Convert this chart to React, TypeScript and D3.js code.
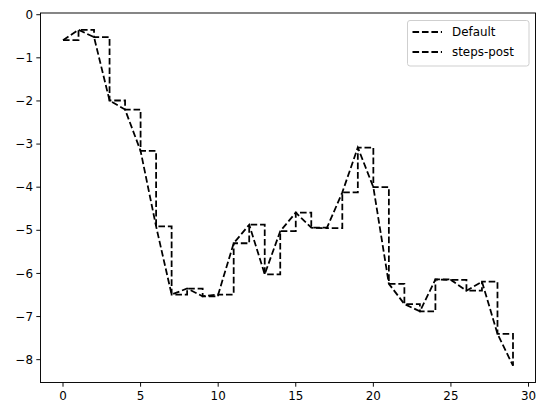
import React from "react";
import * as d3 from "d3";

const xValues: number[] = Array.from({ length: 30 }, (_, i) => i);
const yValues: number[] = [
  -0.59, -0.35, -0.52, -1.99, -2.2, -3.16, -4.91, -6.49, -6.35, -6.53,
  -6.49, -5.3, -4.87, -6.02, -5.02, -4.59, -4.94, -4.95, -4.12, -3.08,
  -4.0, -6.24, -6.71, -6.88, -6.14, -6.15, -6.4, -6.19, -7.4, -8.14,
];
const seriesLabels: string[] = ["Default", "steps-post"];
const xTicks: number[] = [0, 5, 10, 15, 20, 25, 30];
const yTicks: number[] = [0, -1, -2, -3, -4, -5, -6, -7, -8];

const W = 547;
const H = 416;
const left = 40.5;
const right = 535.5;
const top = 13;
const bottom = 382.5;
const FONT = "DejaVu Sans, sans-serif";

export default function App() {
  const xmin = d3.min(xValues)!;
  const xmax = d3.max(xValues)!;
  const xm = (xmax - xmin) * 0.05;
  const ymin = d3.min(yValues)!;
  const ymax = d3.max(yValues)!;
  const ym = (ymax - ymin) * 0.05;
  const x = d3.scaleLinear().domain([xmin - xm, xmax + xm]).range([left, right]);
  const y = d3.scaleLinear().domain([ymin - ym, ymax + ym]).range([bottom, top]);

  const pts: [number, number][] = xValues.map((v, i) => [v, yValues[i]]);
  const lineDefault = d3.line<[number, number]>().x((d) => x(d[0])).y((d) => y(d[1]));
  const lineStep = d3
    .line<[number, number]>()
    .x((d) => x(d[0]))
    .y((d) => y(d[1]))
    .curve(d3.curveStepAfter);

  const dash = "6.6,2.85";
  const lw = 1.78;

  return (
    <div style={{ position: "absolute", left: 0, top: 0 }}>
      <svg width={W} height={H} style={{ display: "block", background: "#fff" }}>
        <rect x={0} y={0} width={W} height={H} fill="#fff" />
        <defs>
          <clipPath id="clip">
            <rect x={left} y={top} width={right - left} height={bottom - top} />
          </clipPath>
        </defs>
        <g clipPath="url(#clip)">
          <path d={lineDefault(pts)!} fill="none" stroke="#000" strokeWidth={lw} strokeDasharray={dash} />
          <path d={lineStep(pts)!} fill="none" stroke="#000" strokeWidth={lw} strokeDasharray={dash} />
        </g>
        <rect x={left} y={top} width={right - left} height={bottom - top} fill="none" stroke="#000" strokeWidth={0.95} />
        {xTicks.map((t) => (
          <g key={"x" + t}>
            <line x1={x(t)} x2={x(t)} y1={bottom} y2={bottom + 4.2} stroke="#000" strokeWidth={0.95} />
            <text x={x(t)} y={bottom + 17.5} textAnchor="middle" fontFamily={FONT} fontSize={11.9} fill="#000">
              {t}
            </text>
          </g>
        ))}
        {yTicks.map((t) => (
          <g key={"y" + t}>
            <line x1={left - 4.2} x2={left} y1={y(t)} y2={y(t)} stroke="#000" strokeWidth={0.95} />
            <text x={left - 7.5} y={y(t)} dy="0.35em" textAnchor="end" fontFamily={FONT} fontSize={11.9} fill="#000">
              {t === 0 ? "0" : "\u2212" + Math.abs(t)}
            </text>
          </g>
        ))}
        <g>
          <rect x={407.5} y={20.5} width={121.5} height={45.5} rx={2.5} fill="#fff" fillOpacity={0.8} stroke="#cccccc" strokeWidth={0.95} />
          {seriesLabels.map((s, i) => (
            <g key={s}>
              <line x1={412.5} x2={442} y1={32 + i * 20} y2={32 + i * 20} stroke="#000" strokeWidth={lw} strokeDasharray={dash} />
              <text x={452} y={32 + i * 20} dy="0.35em" fontFamily={FONT} fontSize={11.9} fill="#000">
                {s}
              </text>
            </g>
          ))}
        </g>
      </svg>
    </div>
  );
}
